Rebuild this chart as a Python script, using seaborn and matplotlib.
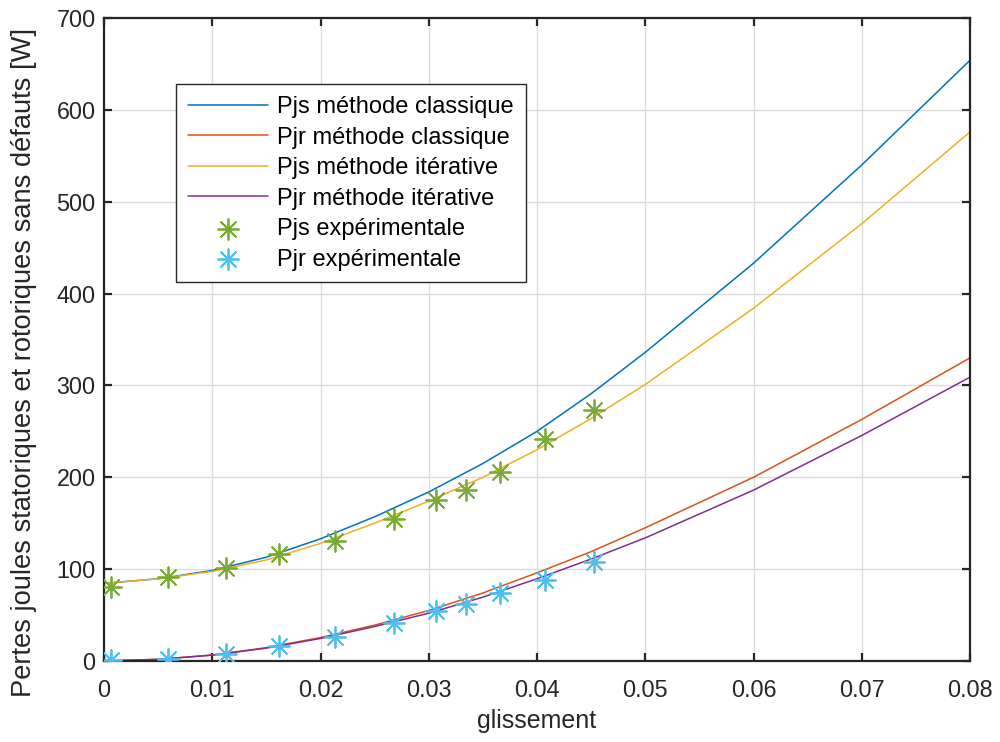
import matplotlib
matplotlib.use("Agg")
import matplotlib.pyplot as plt
import seaborn as sns
import pandas as pd
import numpy as np

# slip values where curves were read
slip = [0, 0.005, 0.01, 0.015, 0.02, 0.025, 0.03, 0.035, 0.04, 0.045, 0.05, 0.06, 0.07, 0.08]
pjs_classique = [84.5, 89.5, 98.5, 113, 133, 157, 184, 215, 250, 291, 336, 433, 540, 654]
pjr_classique = [0, 1.8, 6.5, 14.5, 25.5, 39, 55, 74, 96, 119, 145, 200, 263, 330]
pjs_iterative = [84.5, 89.5, 97.5, 110, 128, 150, 174, 200, 230, 264, 301, 384, 476, 576]
pjr_iterative = [0, 1.8, 6.3, 14, 24.5, 37.5, 52, 69.5, 89.5, 111, 134, 186, 245.5, 309]

# experimental points
slip_exp = [0.00065, 0.0059, 0.0113, 0.0162, 0.0213, 0.0268, 0.0307, 0.0334, 0.0366, 0.0407, 0.0453]
pjs_exp = [80, 91, 101, 116, 131, 155, 175, 186, 206, 242, 273]
pjr_exp = [1.5, 2.5, 8, 16.5, 26.5, 41.5, 54, 62.5, 73.5, 88.5, 108]

labels = ["Pjs méthode classique", "Pjr méthode classique",
          "Pjs méthode itérative", "Pjr méthode itérative",
          "Pjs expérimentale", "Pjr expérimentale"]
colors = ["#0072BD", "#D95319", "#EDB120", "#7E2F8E", "#77AC30", "#4DBEEE"]

x_ticks = [0, 0.01, 0.02, 0.03, 0.04, 0.05, 0.06, 0.07, 0.08]
x_ticklabels = ["0", "0.01", "0.02", "0.03", "0.04", "0.05", "0.06", "0.07", "0.08"]
y_ticks = [0, 100, 200, 300, 400, 500, 600, 700]

sns.set_theme(style="whitegrid")
plt.rcParams['font.family'] = ['Liberation Sans', 'DejaVu Sans']

fig = plt.figure(figsize=(10, 7.42), dpi=100)
ax = fig.add_axes([0.104, 0.1092, 0.866, 0.8665])
ax.set_facecolor("white")

curves = [pjs_classique, pjr_classique, pjs_iterative, pjr_iterative]
for vals, lab, col in zip(curves, labels[:4], colors[:4]):
    df = pd.DataFrame({"s": slip, "p": vals})
    sns.lineplot(data=df, x="s", y="p", ax=ax, color=col, linewidth=1.1, label=lab)

star = (8, 2, 0)
for vals, lab, col in zip([pjs_exp, pjr_exp], labels[4:], colors[4:]):
    df = pd.DataFrame({"s": slip_exp, "p": vals})
    sns.scatterplot(data=df, x="s", y="p", ax=ax, marker=star, s=220,
                    color=col, edgecolor=col, linewidth=1.3, label=lab, zorder=3)

ax.set_xlim(0, 0.08)
ax.set_ylim(0, 700)
ax.set_xticks(x_ticks)
ax.set_xticklabels(x_ticklabels)
ax.set_yticks(y_ticks)
ax.grid(True, color="#dcdcdc", linewidth=1.0)
for sp in ax.spines.values():
    sp.set_visible(True)
    sp.set_color("#262626")
    sp.set_linewidth(1.6)
ax.tick_params(axis="both", which="both", direction="in", length=6, width=1.6,
               color="#262626", labelsize=16.8, labelcolor="#262626",
               top=True, right=True, bottom=True, left=True, pad=6)
ax.tick_params(axis="x", pad=13)
ax.set_xlabel("glissement", fontsize=18, color="#262626", labelpad=5)
ax.set_ylabel("Pertes joules statoriques et rotoriques sans défauts [W]",
              fontsize=19.6, color="#262626")
ax.yaxis.set_label_coords(-0.077, 0.465)

leg = ax.legend(loc="upper left", bbox_to_anchor=(0.083, 0.897), borderaxespad=0,
                fontsize=17, frameon=True, fancybox=False, framealpha=1,
                handlelength=3.4, labelspacing=0.36, borderpad=0.5,
                handletextpad=0.4)
leg.get_frame().set_edgecolor("#262626")
leg.get_frame().set_linewidth(1.0)
for t in leg.get_texts():
    t.set_color("black")

fig.savefig("out.png", dpi=100, facecolor="white")
